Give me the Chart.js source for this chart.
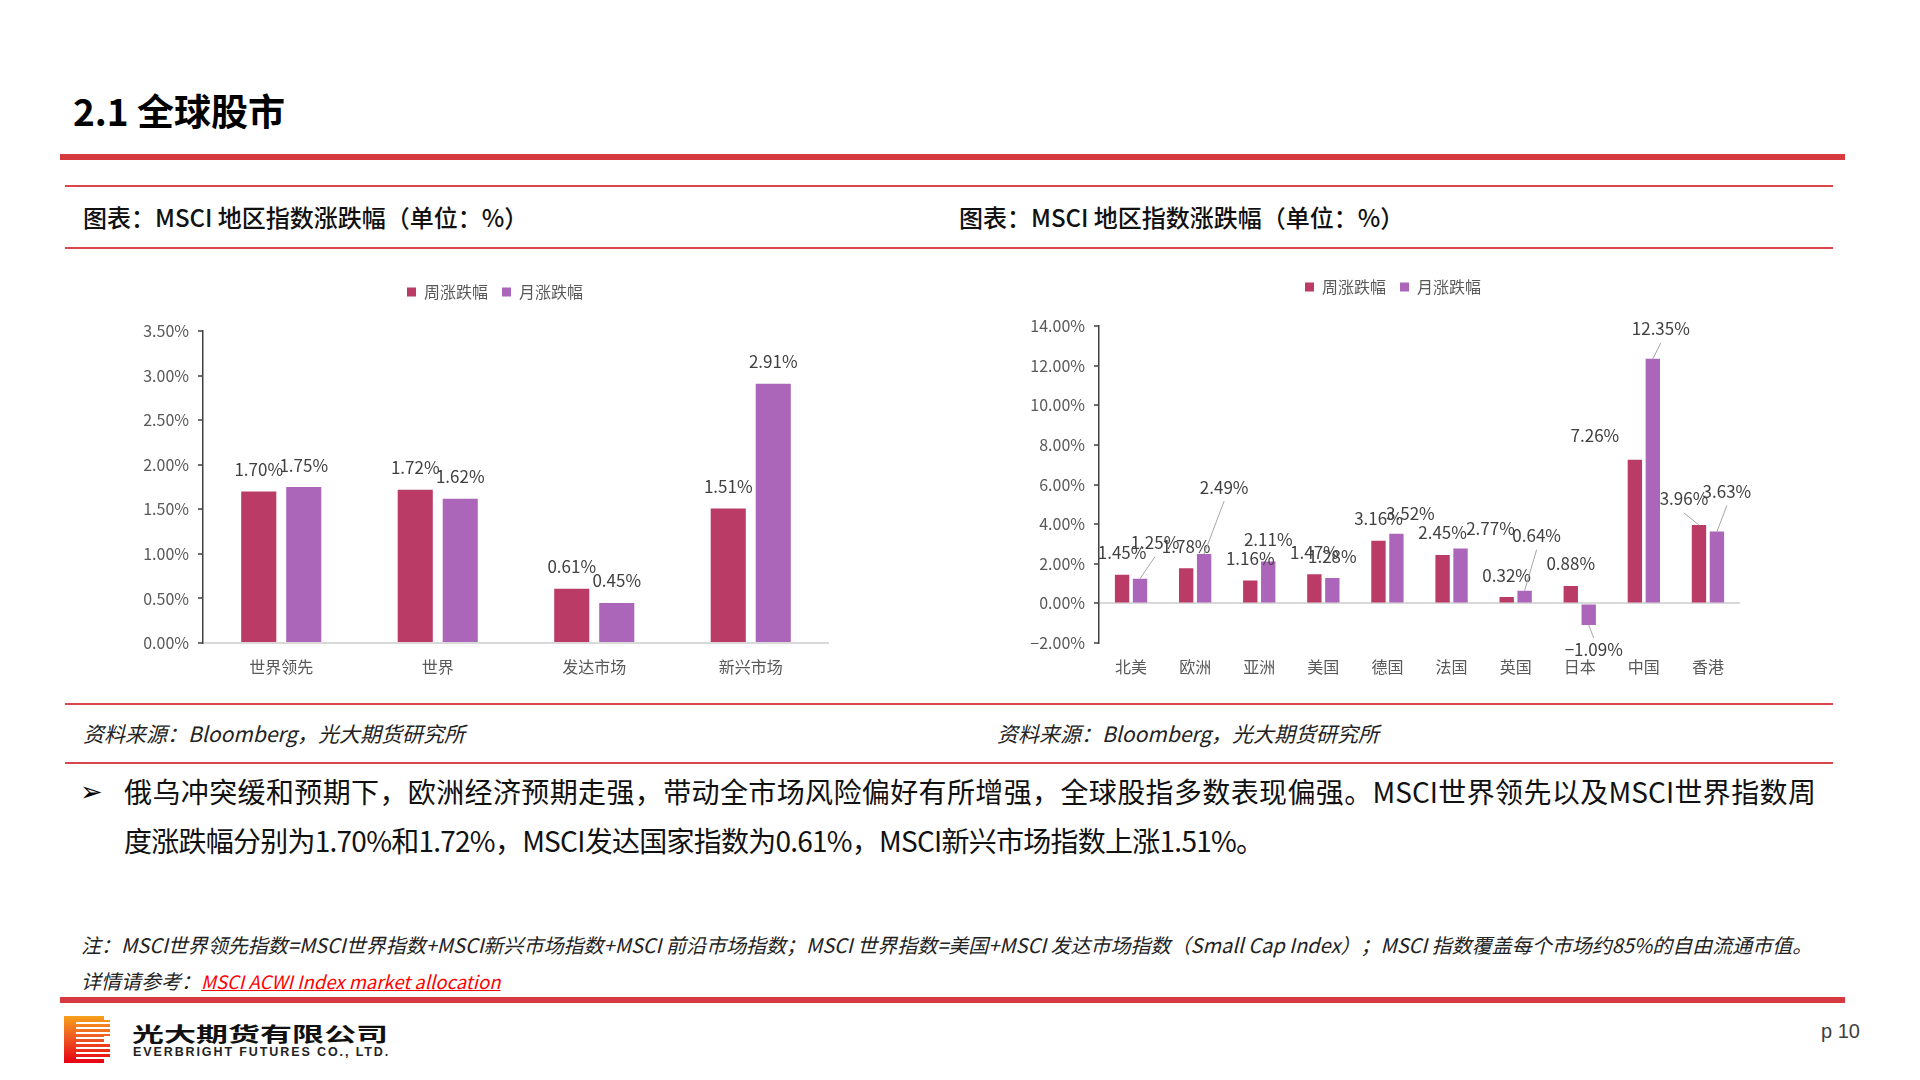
<!DOCTYPE html>
<html lang="zh-CN">
<head>
<meta charset="utf-8">
<title>2.1 全球股市</title>
<script src="https://cdn.jsdelivr.net/npm/chart.js@4.4.1/dist/chart.umd.min.js"></script>
<style>
  html, body { margin: 0; padding: 0; background: #fff; }
  body {
    width: 1920px; height: 1080px; position: relative; overflow: hidden;
    font-family: "Noto Sans CJK SC", "Noto Sans", sans-serif; color: #111;
  }
  .abs { position: absolute; white-space: nowrap; }
  .rule { position: absolute; background: #d9464b; }
  .thick { background: #d63a3f; height: 6px; left: 60px; width: 1785px; }
  .thin { height: 2px; left: 65px; width: 1768px; }
  .fig-title { font-size: 24px; line-height: 30px; top: 202px; font-weight: 500; color: #111; }
  .source { font-size: 21px; line-height: 30px; top: 718px; font-style: italic; color: #222; }
  .chart-box { position: absolute; }
  .logo {
    position: absolute; left: 64px; top: 1016px; width: 46px; height: 47px;
    background: linear-gradient(180deg, #f7a11a 0%, #ef5a22 45%, #e60012 100%);
  }
  .logo .stripes {
    position: absolute; left: 12px; top: 3px; right: 0; bottom: 3px;
    background: repeating-linear-gradient(180deg, rgba(255,255,255,0) 0 3px, #fff 3px 5px);
  }
  .logo .notch { position: absolute; right: 0; top: 20px; width: 6px; height: 7px; background: #fff; }
  .logo .cut1 { position: absolute; right: 0; top: 0; width: 6px; height: 4px; background: #fff; }
  .logo .cut2 { position: absolute; right: 0; bottom: 0; width: 6px; height: 4px; background: #fff; }
</style>
</head>
<body>

<div class="abs" style="left:73px; top:88px; font-size:37px; line-height:44px; font-weight:700; color:#000;">2.1 全球股市</div>
<div class="rule thick" style="top:154px;"></div>

<div class="rule thin" style="top:185px;"></div>
<div class="abs fig-title" style="left:83px;">图表：MSCI 地区指数涨跌幅（单位：%）</div>
<div class="abs fig-title" style="left:959px;">图表：MSCI 地区指数涨跌幅（单位：%）</div>
<div class="rule thin" style="top:247px;"></div>

<div class="chart-box" style="left:140px; top:270px; width:710px; height:420px;"><canvas id="leftChart"></canvas></div>
<div class="chart-box" style="left:1030px; top:265px; width:726px; height:425px;"><canvas id="rightChart"></canvas></div>

<div class="rule thin" style="top:703px;"></div>
<div class="abs source" style="left:83px;">资料来源：Bloomberg，光大期货研究所</div>
<div class="abs source" style="left:997px;">资料来源：Bloomberg，光大期货研究所</div>
<div class="rule thin" style="top:762px;"></div>

<div class="abs" style="left:80px; top:772px; font-family:'DejaVu Sans'; font-size:27px; line-height:40px; color:#000;">➢</div>
<div style="position:absolute; left:124px; top:767px; width:1692px; font-size:28px; line-height:49px; color:#111; text-align-last:justify;">俄乌冲突缓和预期下，欧洲经济预期走强，带动全市场风险偏好有所增强，全球股指多数表现偏强。MSCI世界领先以及MSCI世界指数周</div>
<div class="abs" style="left:124px; top:816px; font-size:28px; line-height:49px; color:#111; letter-spacing:-0.75px;">度涨跌幅分别为1.70%和1.72%，MSCI发达国家指数为0.61%，MSCI新兴市场指数上涨1.51%。</div>

<div class="abs" style="left:81px; top:930px; font-size:20px; line-height:30px; font-style:italic; color:#222;">注：MSCI世界领先指数=MSCI世界指数+MSCI新兴市场指数+MSCI 前沿市场指数；MSCI 世界指数=美国+MSCI 发达市场指数（Small Cap Index）；MSCI 指数覆盖每个市场约85%的自由流通市值。</div>
<div class="abs" style="left:81px; top:966px; font-size:20px; line-height:30px; font-style:italic; color:#222;">详情请参考：<span style="color:#ff0000; text-decoration:underline; font-size:18.5px;">MSCI ACWI Index market allocation</span></div>

<div class="rule thick" style="top:997px;"></div>

<div class="logo"><div class="stripes"></div><div class="notch"></div><div class="cut1"></div><div class="cut2"></div></div>
<div class="abs" style="left:132px; top:1020px; font-size:20px; line-height:28px; font-weight:700; color:#111; transform:scaleX(1.6); transform-origin:left center;">光大期货有限公司</div>
<div class="abs" style="left:133px; top:1043px; font-family:'Liberation Sans','DejaVu Sans',sans-serif; font-size:12.5px; line-height:18px; font-weight:700; color:#222; letter-spacing:1.9px;">EVERBRIGHT FUTURES CO., LTD.</div>
<div class="abs" style="left:1821px; top:1018px; font-family:'Liberation Sans Narrow','Liberation Sans',sans-serif; font-size:20px; line-height:26px; color:#404040;">p 10</div>

<script>
// chart data
const seriesNames = ['周涨跌幅', '月涨跌幅'];
const seriesColors = ['#b93b66', '#ab66b9'];

const leftCategories = ['世界领先', '世界', '发达市场', '新兴市场'];
const leftWeekly = [1.70, 1.72, 0.61, 1.51];
const leftMonthly = [1.75, 1.62, 0.45, 2.91];
const leftAxis = [0, 3.5, 0.5]; // min, max, step

const rightCategories = ['北美', '欧洲', '亚洲', '美国', '德国', '法国', '英国', '日本', '中国', '香港'];
const rightWeekly = [1.45, 1.78, 1.16, 1.47, 3.16, 2.45, 0.32, 0.88, 7.26, 3.96];
const rightMonthly = [1.25, 2.49, 2.11, 1.28, 3.52, 2.77, 0.64, -1.09, 12.35, 3.63];
const rightAxis = [-2, 14, 2];

// label shifts in px [dx, dy, leader line] where the labels were moved apart
const rightWeeklyShift = [[0, 0], [0, 0], [0, 0], [0, 0], [0, 0], [0, 0], [0, 0], [0, 0], [-40, -2], [-15, -4, 1]];
const rightMonthlyShift = [[15, -14, 1], [20, -45, 1], [0, 0], [0, 0], [14, 2], [30, 2], [12, -33, 1], [5, 3, 1], [8, -8, 1], [10, -18, 1]];

const FONT = "'Liberation Sans Narrow', 'Noto Sans CJK SC', sans-serif";
const fmt = v => (v.toFixed(2) + '%').replace('-', '\u2212');

Chart.defaults.font.family = FONT;
Chart.defaults.color = '#595959';

// value labels above / below the bars
const barLabels = {
    id: 'barLabels',
    afterDatasetsDraw(chart, args, opts) {
        const ctx = chart.ctx;
        ctx.save();
        ctx.font = '17px ' + FONT;
        ctx.fillStyle = '#404040';
        ctx.textAlign = 'center';
        ctx.textBaseline = 'middle';
        chart.data.datasets.forEach((ds, i) => {
            const shifts = (opts.shifts && opts.shifts[i]) || [];
            chart.getDatasetMeta(i).data.forEach((bar, j) => {
                const v = ds.data[j];
                const [dx, dy, leader] = shifts[j] || [0, 0];
                const up = v >= 0;
                const x = bar.x + dx;
                const y = bar.y + (up ? -22 : 22) + dy;
                if (leader) {
                    ctx.strokeStyle = '#a6a6a6';
                    ctx.lineWidth = 1;
                    ctx.beginPath();
                    ctx.moveTo(x, y + (up ? 14 : -12));
                    ctx.lineTo(bar.x, bar.y);
                    ctx.stroke();
                }
                ctx.fillText(fmt(v), x, y);
            });
        });
        ctx.restore();
    }
};

function makeChart(id, categories, weekly, monthly, axis, geo, shifts) {
    return new Chart(document.getElementById(id), {
        type: 'bar',
        data: {
            labels: categories,
            datasets: [
                { label: seriesNames[0], data: weekly, backgroundColor: seriesColors[0] },
                { label: seriesNames[1], data: monthly, backgroundColor: seriesColors[1] }
            ]
        },
        options: {
            responsive: true,
            maintainAspectRatio: false,
            animation: false,
            categoryPercentage: geo.cat,
            barPercentage: geo.bar,
            layout: { padding: 0 },
            plugins: {
                legend: {
                    position: 'top',
                    labels: { boxWidth: 9, boxHeight: 9, padding: 14, color: '#595959', font: { size: 16 } }
                },
                // empty title used as a gap between legend and plot
                title: { display: true, text: '', weight: 500, font: { size: 1 }, padding: { top: 0, bottom: 20 } },
                tooltip: { enabled: false },
                barLabels: { shifts: shifts }
            },
            scales: {
                x: {
                    grid: { display: false, drawTicks: false },
                    border: { display: false },
                    ticks: { color: '#595959', font: { size: 16 }, padding: 14 },
                    afterFit: s => { s.height = 47; s.paddingRight = geo.padR; }
                },
                y: {
                    min: axis[0],
                    max: axis[1],
                    ticks: { stepSize: axis[2], color: '#595959', font: { size: 16 }, padding: 9, callback: v => fmt(v) },
                    border: { display: true, color: '#404040', width: 1.5 },
                    grid: {
                        color: c => (c.tick && c.tick.value === 0 ? '#d9d9d9' : 'rgba(0,0,0,0)'),
                        lineWidth: 2,
                        drawTicks: true,
                        tickLength: 5,
                        tickColor: '#404040',
                        tickWidth: 1.5
                    },
                    afterFit: s => { s.width = geo.axisW; }
                }
            }
        },
        plugins: [barLabels]
    });
}

makeChart('leftChart', leftCategories, leftWeekly, leftMonthly, leftAxis,
    { padR: 21, axisW: 63, cat: 0.575, bar: 0.78 }, null);

makeChart('rightChart', rightCategories, rightWeekly, rightMonthly, rightAxis,
    { padR: 16, axisW: 69, cat: 0.56, bar: 0.8 },
    [rightWeeklyShift, rightMonthlyShift]);
</script>
</body>
</html>
